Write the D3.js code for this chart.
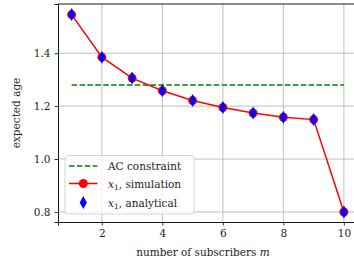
<!DOCTYPE html>
<html>
<head>
<meta charset="utf-8">
<script src="https://d3js.org/d3.v7.min.js"></script>
<style>
  body { margin: 0; background: #fff; }
  svg text { font-family: "DejaVu Serif", "Liberation Serif", serif; fill: #222; }
</style>
</head>
<body>
<svg id="chart" width="354" height="268"></svg>
<script>
// data
const subscribers = [1, 2, 3, 4, 5, 6, 7, 8, 9, 10];
const simulated = [1.546, 1.385, 1.306, 1.258, 1.221, 1.195, 1.174, 1.158, 1.149, 0.80];
const analytical = [1.546, 1.385, 1.306, 1.258, 1.221, 1.195, 1.174, 1.158, 1.149, 0.80];
const acConstraint = 1.28;
const xTicks = [2, 4, 6, 8, 10];
const yTicks = [0.8, 1.0, 1.2, 1.4];
const legendLabels = ["AC constraint", "simulation", "analytical"];

const margin = {top: 4, left: 58, bottom: 46};
const width = 354, height = 268;
const fs = 10.5;

const svg = d3.select("#chart");

const x = d3.scaleLinear().domain([0.55, 10.45]).range([margin.left, 357.5]);
const y = d3.scaleLinear().domain([0.762, 1.586]).range([height - margin.bottom, margin.top]);

//grid
svg.append("g").selectAll("line").data(xTicks).enter().append("line")
  .attr("x1", d => x(d)).attr("x2", d => x(d))
  .attr("y1", y.range()[0]).attr("y2", y.range()[1])
  .attr("stroke", "#b0b0b0").attr("stroke-width", 0.8);
svg.append("g").selectAll("line").data(yTicks).enter().append("line")
  .attr("x1", x.range()[0]).attr("x2", x.range()[1])
  .attr("y1", d => y(d)).attr("y2", d => y(d))
  .attr("stroke", "#b0b0b0").attr("stroke-width", 0.8);

// axes
const xAxis = svg.append("g")
  .attr("transform", "translate(0," + y.range()[0] + ")")
  .call(d3.axisBottom(x).tickValues(xTicks).tickFormat(d3.format("d")).tickSize(3.5).tickPadding(4));
const yAxis = svg.append("g")
  .attr("transform", "translate(" + margin.left + ",0)")
  .call(d3.axisLeft(y).tickValues(yTicks).tickFormat(d3.format(".1f")).tickSize(3.5).tickPadding(4));
[xAxis, yAxis].forEach(a => {
  a.selectAll("text").attr("font-size", fs).attr("font-family", null);
  a.selectAll("line").attr("stroke", "#000").attr("stroke-width", 0.8);
  a.select(".domain").attr("stroke", "#000").attr("stroke-width", 0.9);
});
// top spine
svg.append("line")
  .attr("x1", x.range()[0]).attr("x2", x.range()[1])
  .attr("y1", y.range()[1]).attr("y2", y.range()[1])
  .attr("stroke", "#000").attr("stroke-width", 0.9);

// AC constraint
svg.append("line")
  .attr("x1", x(1)).attr("x2", x(10))
  .attr("y1", y(acConstraint)).attr("y2", y(acConstraint))
  .attr("stroke", "#008000").attr("stroke-width", 1.5)
  .attr("stroke-dasharray", "5.5,2.4");

// simulation line + markers
const line = d3.line().x((d, i) => x(subscribers[i])).y(d => y(d));
svg.append("path").datum(simulated)
  .attr("d", line).attr("fill", "none")
  .attr("stroke", "red").attr("stroke-width", 1.5);
svg.append("g").selectAll("circle").data(simulated).enter().append("circle")
  .attr("cx", (d, i) => x(subscribers[i])).attr("cy", d => y(d))
  .attr("r", 4.5).attr("fill", "red");

// thin diamond
function diamond(cx, cy) {
  return "M" + cx + "," + (cy - 6.5) + "L" + (cx + 3.6) + "," + cy +
    "L" + cx + "," + (cy + 6.5) + "L" + (cx - 3.6) + "," + cy + "Z";
}
svg.append("g").selectAll("path").data(analytical).enter().append("path")
  .attr("d", (d, i) => diamond(x(subscribers[i]), y(d)))
  .attr("fill", "blue");

// legend
const lg = svg.append("g");
lg.append("rect")
  .attr("x", 65).attr("y", 155.5).attr("width", 129).attr("height", 58.5).attr("rx", 2.5)
  .attr("fill", "#fff").attr("fill-opacity", 0.8)
  .attr("stroke", "#d0d0d0").attr("stroke-width", 0.9);
const rowY = [166, 183.5, 202.5];
lg.append("line").attr("x1", 69).attr("x2", 97.5).attr("y1", rowY[0]).attr("y2", rowY[0])
  .attr("stroke", "#008000").attr("stroke-width", 1.5).attr("stroke-dasharray", "5.5,2.4");
lg.append("line").attr("x1", 69).attr("x2", 97.5).attr("y1", rowY[1]).attr("y2", rowY[1])
  .attr("stroke", "red").attr("stroke-width", 1.5);
lg.append("circle").attr("cx", 83.3).attr("cy", rowY[1]).attr("r", 4.5).attr("fill", "red");
lg.append("path").attr("d", diamond(83.3, rowY[2])).attr("fill", "blue");

lg.append("text").attr("x", 108).attr("y", rowY[0] + 4).attr("font-size", fs).text(legendLabels[0]);
[1, 2].forEach(k => {
  const t = lg.append("text").attr("x", 108).attr("y", rowY[k] + 4).attr("font-size", fs);
  t.append("tspan").attr("font-style", "italic").text("x");
  t.append("tspan").attr("font-size", 7.5).attr("dy", 2.5).text("1");
  t.append("tspan").attr("dy", -2.5).text(", " + legendLabels[k]);
});

// axis labels
const xl = svg.append("text")
  .attr("x", 203).attr("y", 256)
  .attr("text-anchor", "middle").attr("font-size", fs);
xl.append("tspan").text("number of subscribers ");
xl.append("tspan").attr("font-style", "italic").text("m");

svg.append("text")
  .attr("transform", "translate(20," + ((y.range()[0] + y.range()[1]) / 2) + ") rotate(-90)")
  .attr("text-anchor", "middle").attr("font-size", fs)
  .text("expected age");
</script>
</body>
</html>
